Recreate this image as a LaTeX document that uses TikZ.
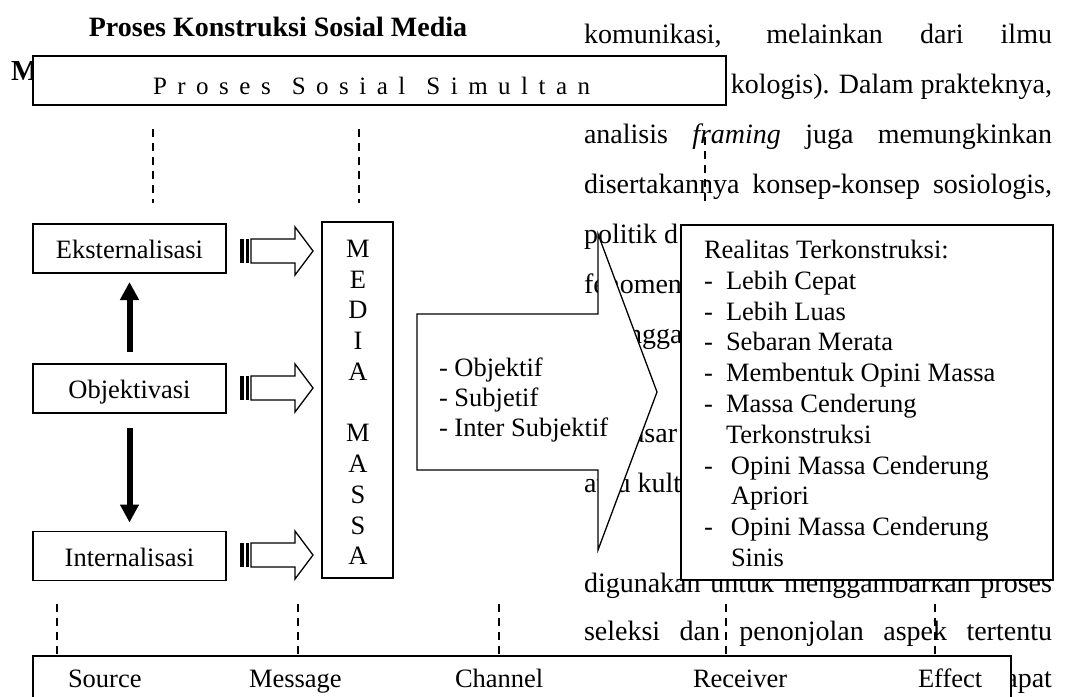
\documentclass[tikz,border=0pt]{standalone}
\usepackage{fontspec}
\setmainfont{Liberation Serif}[ItalicFont={Liberation Serif Italic}, BoldFont={Liberation Serif Bold}]
\usetikzlibrary{arrows.meta}
\def\spreadA#1{\ifx\relax#1\else#1\expandafter\spreadB\fi}
\def\spreadB#1{\ifx\relax#1\else\hspace{10.5pt}#1\expandafter\spreadB\fi}
\newcommand\spreadword[1]{\spreadA#1\relax}
\newcommand\jline[1]{\makebox[468pt][s]{#1}}
\begin{document}
\begin{tikzpicture}[x=1pt,y=-1pt,
  every node/.style={inner sep=0pt, outer sep=0pt},
  bodyt/.style={font=\fontsize{28}{50}\selectfont, anchor=base west},
  dtext/.style={font=\fontsize{26.5}{30.8}\selectfont},
  boxframe/.style={draw, line width=1.3pt, fill=white},
  lbox/.style={boxframe, dtext, minimum width=193pt, minimum height=49pt, text height=20pt, text depth=0pt},
  dline/.style={line width=1.2pt, dash pattern=on 8pt off 6pt},
  solidarr/.style={line width=6pt, -{Triangle[width=18pt,length=18pt]}},
  blk/.style={draw, line width=1.3pt, fill=white, line join=miter}
]
\useasboundingbox (0,0) rectangle (1078,696);
\fill[white] (0,0) rectangle (1078,696);

% body text (background page)
\node[bodyt] (b1) at (584,43) {\jline{komunikasi, melainkan dari ilmu}};
\node[bodyt, anchor=base east] (b2) at (1052,93) {kologis). Dalam prakteknya,};
\node[bodyt] (b3) at (584,143) {\jline{analisis \textit{framing} juga memungkinkan}};
\node[bodyt] (b4) at (584,193) {\jline{disertakannya konsep-konsep sosiologis,}};
\node[bodyt] (b5) at (584,243) {politik d};
\node[bodyt] (b6) at (584,293) {fenomena};
\node[bodyt] (b7) at (628,343) {ngga};
\node[bodyt] (b9) at (632,442) {asar};
\node[bodyt] (b10) at (584,492) {atau kult};
\node[bodyt] (b12) at (584,592) {\jline{digunakan untuk menggambarkan proses}};
\node[bodyt] (b13) at (584,640) {\jline{seleksi dan penonjolan aspek tertentu}};
\node[bodyt, anchor=base east] (b14) at (1052,687) {dapat};

% title
\node[font=\bfseries\fontsize{28}{34}\selectfont, anchor=base] (title) at (278,36) {Proses Konstruksi Sosial Media};
\node[font=\bfseries\fontsize{29}{35}\selectfont, anchor=base west] (mchar) at (11,80) {M};

% top box
\node[boxframe, anchor=north west, minimum width=693pt, minimum height=49pt] (topbox) at (33,56) {};
\node[font=\fontsize{25}{29}\selectfont, anchor=base west] (toptext) at (153,94)
  {\spreadword{Proses}\hspace{21pt}\spreadword{Sosial}\hspace{21pt}\spreadword{Simultan}};

\coordinate (t1a) at (153,129); \coordinate (t1b) at (153,203);
\coordinate (t2a) at (359,129); \coordinate (t2b) at (359,203);
\coordinate (t3a) at (705,137); \coordinate (t3b) at (705,203);
\draw[dline] (t1a) -- (t1b);
\draw[dline] (t2a) -- (t2b);

% left boxes
\node[lbox] (ext) at (129.5,248.5) {Eksternalisasi};
\node[lbox] (obj) at (129.5,388.5) {Objektivasi};
\node[lbox] (int) at (129.5,556) {Internalisasi};

\draw[solidarr, shorten <=12pt, shorten >=9pt] (obj) -- (ext);
\draw[solidarr, shorten <=15pt, shorten >=9pt] (obj) -- (int);

% media box
\node[boxframe, minimum width=71pt, minimum height=356pt] (media) at (357.5,400) {};
\foreach \l/\y in {M/257,E/288,D/318,I/349,A/380,M/441,A/472,S/503,S/534,A/564}
  \node[dtext, anchor=base] (ml\y) at (358,\y) {\l};

% striped block arrows
\foreach \c in {251,388,555} {
  \fill ({240},{\c-12}) rectangle ({244},{\c+12});
  \fill ({246},{\c-12}) rectangle ({248.5},{\c+12});
  \draw[blk] (251,{\c-12}) -- (295,{\c-12}) -- (295,{\c-24}) -- (313,\c)
     -- (295,{\c+24}) -- (295,{\c+12}) -- (251,{\c+12}) -- cycle;
}

% big arrow
\draw[blk] (417,314) -- (598,314) -- (598,234) -- (657,392) -- (598,550)
   -- (598,470) -- (417,470) -- cycle;
\node[dtext, anchor=base west] (o1) at (439,376) {- Objektif};
\node[dtext, anchor=base west] (o2) at (439,406) {- Subjetif};
\node[dtext, anchor=base west] (o3) at (439,436) {- Inter Subjektif};

% realitas box
\node[boxframe, anchor=north west, minimum width=372pt, minimum height=355pt] (real) at (681,225) {};
\node[dtext, anchor=base west] (r0) at (704,258) {Realitas Terkonstruksi:};
\foreach \t/\y/\w in {Lebih Cepat/289/22, Lebih Luas/320/22, Sebaran Merata/350/22,
   Membentuk Opini Massa/381/22, Massa Cenderung/412/22,
   Opini Massa Cenderung/474/27, Opini Massa Cenderung/535/27}
  \node[dtext, anchor=base west] (ri\y) at (704,\y) {\makebox[\w pt][l]{-}\t};
\node[dtext, anchor=base west] (rt1) at (726,443) {Terkonstruksi};
\node[dtext, anchor=base west] (rt2) at (731,504) {Apriori};
\node[dtext, anchor=base west] (rt3) at (731,566) {Sinis};

\draw[dline] (t3a) -- (t3b);

% bottom box
\node[boxframe, anchor=north west, minimum width=978pt, minimum height=50pt] (botbox) at (33,656) {};
\node[dtext, anchor=base west] (src) at (68,687) {Source};
\node[dtext, anchor=base west] (msg) at (249,687) {Message};
\node[dtext, anchor=base west] (chn) at (455,687) {Channel};
\node[dtext, anchor=base west] (rcv) at (693,687) {Receiver};
\node[dtext, anchor=base west] (eff) at (918,687) {Effect};

\foreach \x/\n in {57/a,298/b,499/c,726/d,935/e} {
  \coordinate (bd\n) at (\x,604);
  \draw[dline] (bd\n) -- (bd\n |- botbox.north);
}
\end{tikzpicture}
\end{document}
